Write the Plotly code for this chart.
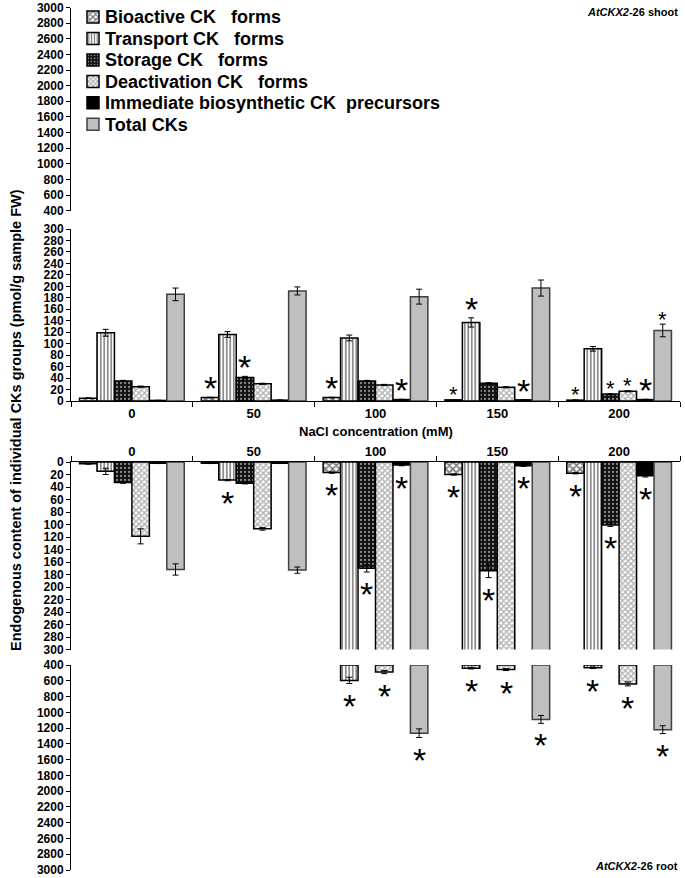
import plotly.graph_objects as go

# ---------------- data ----------------
categories = ["0", "50", "100", "150", "200"]
series_names = [
    "Bioactive CK\u00a0\u00a0\u00a0forms",
    "Transport CK\u00a0\u00a0\u00a0forms",
    "Storage CK\u00a0\u00a0\u00a0forms",
    "Deactivation CK\u00a0\u00a0\u00a0forms",
    "Immediate biosynthetic CK\u00a0\u00a0precursors",
    "Total CKs",
]

# shoot (pmol/g FW)
shoot_bioactive = [5, 6, 6, 2, 1.5]
shoot_transport = [119, 116, 110, 137, 91]
shoot_storage = [35, 41, 35, 31, 12]
shoot_deactivation = [25, 30, 28, 24, 17]
shoot_immediate = [1, 1.5, 2.5, 2, 2.5]
shoot_total = [186, 192, 182, 197, 123]

shoot_bioactive_err = [0.5, 0.5, 0.5, 0.3, 0.3]
shoot_transport_err = [6, 5, 5, 8, 4]
shoot_storage_err = [1, 2, 1, 1, 1]
shoot_deactivation_err = [1, 1, 1, 1, 1]
shoot_immediate_err = [0.3, 0.3, 0.5, 0.5, 0.5]
shoot_total_err = [11, 7, 13, 14, 11]

# root (pmol/g FW)
root_bioactive = [3, 2, 17, 20, 18]
root_transport = [15, 29, 595, 440, 435]
root_storage = [33, 34, 170, 174, 101]
root_deactivation = [119, 107, 490, 458, 640]
root_immediate = [2, 2, 5, 6, 22]
root_total = [172, 173, 1265, 1090, 1220]

root_bioactive_err = [0.5, 0.5, 1, 1, 1]
root_transport_err = [5, 1, 40, 10, 10]
root_storage_err = [1, 1, 6, 11, 2]
root_deactivation_err = [12, 2, 20, 12, 25]
root_immediate_err = [0.5, 0.5, 1, 1, 2]
root_total_err = [9, 5, 55, 50, 50]

# significance marks: (series index, category index, big?)
shoot_stars = [(0, 1, True), (2, 1, True),
               (0, 2, True), (4, 2, True),
               (0, 3, False), (1, 3, True), (4, 3, True),
               (0, 4, False), (2, 4, False), (3, 4, False), (4, 4, True), (5, 4, False)]
root_stars = [(1, 1, True)] + [(s, c, True) for c in (2, 3, 4) for s in range(6)]

# axis breaks
LOW_MAX = 300
HIGH_MIN = 400
HIGH_MAX = 3000

shoot_vals = [shoot_bioactive, shoot_transport, shoot_storage, shoot_deactivation, shoot_immediate, shoot_total]
shoot_errs = [shoot_bioactive_err, shoot_transport_err, shoot_storage_err, shoot_deactivation_err, shoot_immediate_err, shoot_total_err]
root_vals = [root_bioactive, root_transport, root_storage, root_deactivation, root_immediate, root_total]
root_errs = [root_bioactive_err, root_transport_err, root_storage_err, root_deactivation_err, root_immediate_err, root_total_err]

# ---------------- styles ----------------
FONT = "Arial"
GAP = 0.14
W = (1 - GAP) / 6
FIG_W, FIG_H = 685, 878

def offset(k):
    return -(1 - GAP) / 2 + W * k

def center(c, k):
    return c + offset(k) + W / 2

markers = [
    dict(color="white", line=dict(color="black", width=1.5),
         pattern=dict(shape="x", fgcolor="black", bgcolor="white", size=5, solidity=0.6)),
    dict(color="white", line=dict(color="black", width=1.5),
         pattern=dict(shape="|", fgcolor="black", bgcolor="white", size=3.5, solidity=0.45)),
    dict(color="black", line=dict(color="black", width=1.5),
         pattern=dict(shape=".", fgcolor="white", bgcolor="#111111", size=4, solidity=0.25)),
    dict(color="white", line=dict(color="black", width=1.5),
         pattern=dict(shape="x", fgcolor="#666666", bgcolor="white", size=4, solidity=0.6)),
    dict(color="black", line=dict(color="black", width=1.5)),
    dict(color="#bfbfbf", line=dict(color="#404040", width=1.5)),
]

def err(arr):
    return dict(type="data", array=arr, color="black", thickness=1, width=3)

xs = list(range(len(categories)))
fig = go.Figure()

for k in range(6):
    hi_s = [v - HIGH_MIN if v > HIGH_MIN else None for v in shoot_vals[k]]
    fig.add_trace(go.Bar(x=xs, y=hi_s, base=HIGH_MIN, offset=offset(k), width=W,
                         marker=markers[k], error_y=err(shoot_errs[k]),
                         xaxis="x", yaxis="y", showlegend=False))
    # legend swatch comes from this trace; its label is drawn as an annotation below
    fig.add_trace(go.Bar(x=xs, y=shoot_vals[k], offset=offset(k), width=W,
                         marker=markers[k], error_y=err(shoot_errs[k]), name="\u00a0",
                         xaxis="x2", yaxis="y2", showlegend=True))
    fig.add_trace(go.Bar(x=xs, y=root_vals[k], offset=offset(k), width=W,
                         marker=markers[k], error_y=err(root_errs[k]),
                         xaxis="x3", yaxis="y3", showlegend=False))
    hi_r = [v - HIGH_MIN if v > HIGH_MIN else None for v in root_vals[k]]
    fig.add_trace(go.Bar(x=xs, y=hi_r, base=HIGH_MIN, offset=offset(k), width=W,
                         marker=markers[k], error_y=err(root_errs[k]),
                         xaxis="x4", yaxis="y4", showlegend=False))

annotations = []
for s, c, big in shoot_stars:
    top = shoot_vals[s][c] + shoot_errs[s][c]
    annotations.append(dict(x=center(c, s), y=top, xref="x2", yref="y2", text="*",
                            showarrow=False, xanchor="center", yanchor="middle",
                            yshift=9 if big else 5,
                            font=dict(family=FONT, size=34 if big else 22, color="black")))
for s, c, big in root_stars:
    v = root_vals[s][c] + root_errs[s][c]
    if v > LOW_MAX:
        xr, yr = "x4", "y4"
    else:
        xr, yr = "x3", "y3"
    annotations.append(dict(x=center(c, s), y=v, xref=xr, yref=yr, text="*",
                            showarrow=False, xanchor="center", yanchor="middle", yshift=-22,
                            font=dict(family=FONT, size=34, color="black")))

# legend labels
LEG_TOP = 17
LEG_STEP = 21.5
for i, nm in enumerate(series_names):
    annotations.append(dict(x=103 / FIG_W, y=1 - (LEG_TOP + LEG_STEP * i) / FIG_H,
                            xref="paper", yref="paper", xanchor="left", yanchor="middle",
                            text=nm, showarrow=False,
                            font=dict(family=FONT, size=18, color="black", weight="bold")))

annotations += [
    dict(x=16 / FIG_W, y=1 - 420 / FIG_H, xref="paper", yref="paper", textangle=-90,
         xanchor="center", yanchor="middle",
         text="Endogenous content of individual CKs groups (pmol/g sample FW)",
         showarrow=False, font=dict(family=FONT, size=14.5, color="black", weight="bold")),
    dict(x=0.5 * (71 + 680) / FIG_W, y=1 - 432 / FIG_H, xref="paper", yref="paper",
         xanchor="center", yanchor="middle",
         text="NaCl concentration (mM)", showarrow=False,
         font=dict(family=FONT, size=13, color="black", weight="bold")),
    dict(x=680 / FIG_W, y=1 - 12 / FIG_H, xref="paper", yref="paper", xanchor="right", yanchor="middle",
         text="<i>AtCKX2</i>-26 shoot", showarrow=False,
         font=dict(family=FONT, size=11, color="black", weight="bold")),
    dict(x=680 / FIG_W, y=1 - 866 / FIG_H, xref="paper", yref="paper", xanchor="right", yanchor="middle",
         text="<i>AtCKX2</i>-26 root", showarrow=False,
         font=dict(family=FONT, size=11, color="black", weight="bold")),
]

XDOM = [71 / FIG_W, 680 / FIG_W]
tickfont = dict(family=FONT, size=12, color="black", weight="bold")

def yax(dom, rng, dtick, tick0, anchor):
    return dict(domain=dom, range=rng, dtick=dtick, tick0=tick0, anchor=anchor,
                showline=True, linecolor="black", linewidth=1, ticks="outside",
                ticklen=4, tickcolor="black", showgrid=False, zeroline=False,
                tickfont=tickfont, fixedrange=True, automargin=False)

def xax(anchor, visible, side="bottom"):
    return dict(domain=XDOM, range=[-0.5, len(categories) - 0.5], anchor=anchor,
                visible=visible, side=side, tickvals=xs, ticktext=categories,
                showline=True, linecolor="black", linewidth=1, ticks="", showgrid=False,
                zeroline=False, automargin=False, fixedrange=True,
                tickfont=dict(family=FONT, size=13, color="black", weight="bold"),
                minor=dict(tick0=-0.5, dtick=1, ticks="outside", ticklen=5, tickcolor="black"))

fig.update_layout(
    width=FIG_W, height=FIG_H,
    margin=dict(l=0, r=0, t=0, b=0, autoexpand=False),
    paper_bgcolor="white", plot_bgcolor="white",
    barmode="overlay",
    showlegend=True,
    legend=dict(x=73 / FIG_W, y=1 - 1.3 / FIG_H, xanchor="left", yanchor="top",
                bgcolor="rgba(0,0,0,0)", traceorder="normal", tracegroupgap=0,
                font=dict(family=FONT, size=14.2, color="black", weight="bold")),
    xaxis=xax("y", False),
    xaxis2=xax("y2", True),
    xaxis3=xax("y3", True, side="top"),
    xaxis4=xax("y4", False),
    yaxis=yax([1 - 210.7 / FIG_H, 1 - 7.5 / FIG_H], [HIGH_MIN, HIGH_MAX], 200, HIGH_MIN, "x"),
    yaxis2=yax([1 - 401 / FIG_H, 1 - 229 / FIG_H], [0, LOW_MAX], 20, 0, "x2"),
    yaxis3=yax([1 - 649.5 / FIG_H, 1 - 462 / FIG_H], [LOW_MAX, 0], 20, 0, "x3"),
    yaxis4=yax([1 - 870 / FIG_H, 1 - 665 / FIG_H], [HIGH_MAX, HIGH_MIN], 200, HIGH_MIN, "x4"),
    annotations=annotations,
)

fig.write_html(
    "out.html",
    config={"displayModeBar": False},
    post_script="document.body.style.margin='0';document.body.style.padding='0';"
                "document.body.style.overflow='hidden';",
)
